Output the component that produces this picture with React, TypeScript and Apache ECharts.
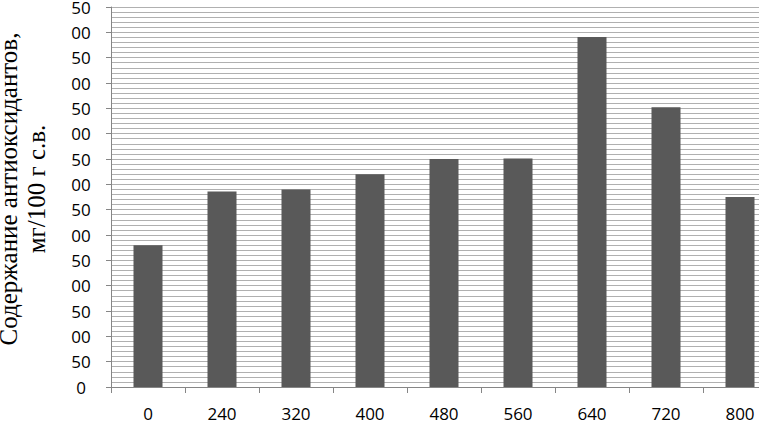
import React, { useEffect, useRef } from "react";
import * as echarts from "echarts";

const categories = ["0", "240", "320", "400", "480", "560", "640", "720", "800"];
const values = [280, 386, 390, 420, 450, 451, 691, 552, 375];
const yMin = 0;
const yMax = 750;
const yStep = 50;
const yAxisTitle = "Содержание антиоксидантов,\nмг/100 г с.в.";

export default function App() {
  const ref = useRef<HTMLDivElement>(null);
  useEffect(() => {
    if (!ref.current) return;
    const chart = echarts.init(ref.current, undefined, { renderer: "svg" });
    const axisGray = "#868686";
    chart.setOption({
      animation: false,
      backgroundColor: "#ffffff",
      grid: {
        left: 111,
        top: 7,
        width: 666,
        bottom: 34,
        containLabel: false,
        outerBoundsMode: "none",
      },
      xAxis: {
        type: "category",
        data: categories,
        boundaryGap: true,
        axisLine: { show: true, lineStyle: { color: axisGray, width: 1 } },
        axisTick: { show: true, alignWithLabel: false, length: 6, lineStyle: { color: axisGray } },
        axisLabel: {
          margin: 18,
          color: "#000",
          fontSize: 17,
          fontFamily: "Open Sans",
          interval: 0,
        },
        splitLine: { show: false },
      },
      yAxis: {
        type: "value",
        min: yMin,
        max: yMax,
        interval: yStep,
        axisLine: { show: true, lineStyle: { color: axisGray, width: 1 } },
        axisTick: { show: true, length: 5, lineStyle: { color: axisGray } },
        axisLabel: {
          margin: 30,
          align: "center",
          color: "#000",
          fontSize: 17,
          fontFamily: "Open Sans",
          formatter: (v: number) => String(v).slice(-2),
        },
        splitLine: { show: true, lineStyle: { color: "#b0b0b0", width: 1 } },
        minorTick: { show: false, splitNumber: 5 },
        minorSplitLine: { show: true, lineStyle: { color: "#b0b0b0", width: 1 } },
      },
      graphic: [
        {
          type: "text",
          x: 22,
          y: 189,
          rotation: Math.PI / 2,
          style: {
            text: yAxisTitle,
            fontSize: 25,
            fontFamily: "Liberation Serif",
            textAlign: "center",
            textVerticalAlign: "middle",
            align: "center",
            verticalAlign: "middle",
            lineHeight: 28,
            fill: "#000",
          },
        },
      ],
      series: [
        {
          type: "bar",
          data: values,
          barWidth: 29,
          itemStyle: { color: "#595959" },
        },
      ],
    });
    return () => chart.dispose();
  }, []);
  return (
    <div
      ref={ref}
      style={{ position: "fixed", left: 0, top: 0, width: 759, height: 421 }}
    />
  );
}
